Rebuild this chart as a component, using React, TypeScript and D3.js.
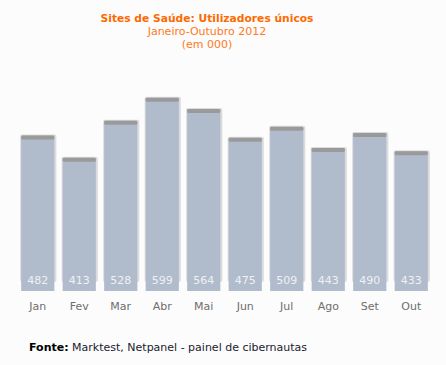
import { useRef, useEffect } from 'react';
import * as d3 from 'd3';

const months = ['Jan', 'Fev', 'Mar', 'Abr', 'Mai', 'Jun', 'Jul', 'Ago', 'Set', 'Out'];
const users = [482, 413, 528, 599, 564, 475, 509, 443, 490, 433];

const W = 446;
const H = 365;
const FONT = "'DejaVu Sans', Verdana, sans-serif";

export default function App() {
  const svgRef = useRef<SVGSVGElement>(null);

  useEffect(() => {
    const svg = d3.select(svgRef.current);
    svg.selectAll('*').remove();

    svg.append('rect').attr('width', W).attr('height', H).attr('fill', '#fcfcfc');

    const x = d3.scaleBand().domain(months).range([17, 432]).paddingInner(0.2).paddingOuter(0.1);
    // zero at y=291, 599 -> ~98
    const y = d3.scaleLinear().domain([0, 620]).range([291, 91]);

    const bars = svg.append('g');
    months.forEach((m, i) => {
      const x0 = x(m) ?? 0;
      const bw = x.bandwidth();
      const top = y(users[i]);
      const bottom = y(0);

      // soft shadow
      bars.append('rect')
        .attr('x', x0 - 1)
        .attr('y', top - 1)
        .attr('width', bw + 3)
        .attr('height', bottom - top - 8)
        .attr('rx', 2)
        .attr('fill', '#dcdcdc');

      bars.append('rect')
        .attr('x', x0)
        .attr('y', top)
        .attr('width', bw)
        .attr('height', bottom - top)
        .attr('fill', '#b0bccc');

      // gray cap
      bars.append('rect')
        .attr('x', x0)
        .attr('y', top)
        .attr('width', bw)
        .attr('height', 4)
        .attr('rx', 1.5)
        .attr('fill', '#9a9a9a');

      bars.append('text')
        .attr('x', x0 + bw / 2)
        .attr('y', 284)
        .attr('text-anchor', 'middle')
        .attr('fill', '#eef0f4')
        .attr('font-size', '11px')
        .attr('font-family', FONT)
        .text(users[i]);

      bars.append('text')
        .attr('x', x0 + bw / 2)
        .attr('y', 310)
        .attr('text-anchor', 'middle')
        .attr('fill', '#6e6e6e')
        .attr('font-size', '11px')
        .attr('font-family', FONT)
        .text(m);
    });

    // Titles
    svg.append('text')
      .attr('x', 207)
      .attr('y', 22)
      .attr('text-anchor', 'middle')
      .attr('fill', '#ff6a00')
      .attr('font-size', '11px')
      .attr('font-weight', 'bold')
      .attr('font-family', FONT)
      .attr('textLength', 213)
      .attr('lengthAdjust', 'spacingAndGlyphs')
      .text('Sites de Saúde: Utilizadores únicos');

    svg.append('text')
      .attr('x', 207)
      .attr('y', 35)
      .attr('text-anchor', 'middle')
      .attr('fill', '#ff7a22')
      .attr('font-size', '11px')
      .attr('font-family', FONT)
      .text('Janeiro-Outubro 2012');

    svg.append('text')
      .attr('x', 207)
      .attr('y', 48)
      .attr('text-anchor', 'middle')
      .attr('fill', '#ff7a22')
      .attr('font-size', '11px')
      .attr('font-family', FONT)
      .text('(em 000)');

    // Source
    const src = svg.append('text')
      .attr('x', 29)
      .attr('y', 351)
      .attr('font-size', '11px')
      .attr('font-family', FONT)
      .attr('fill', '#1a1a2e');
    src.append('tspan').attr('font-weight', 'bold').attr('fill', '#000').text('Fonte:');
    src.append('tspan').text(' Marktest, Netpanel - painel de cibernautas');
  }, []);

  return (
    <svg
      ref={svgRef}
      width={W}
      height={H}
      viewBox={`0 0 ${W} ${H}`}
      style={{ position: 'absolute', left: 0, top: 0, display: 'block' }}
    />
  );
}
